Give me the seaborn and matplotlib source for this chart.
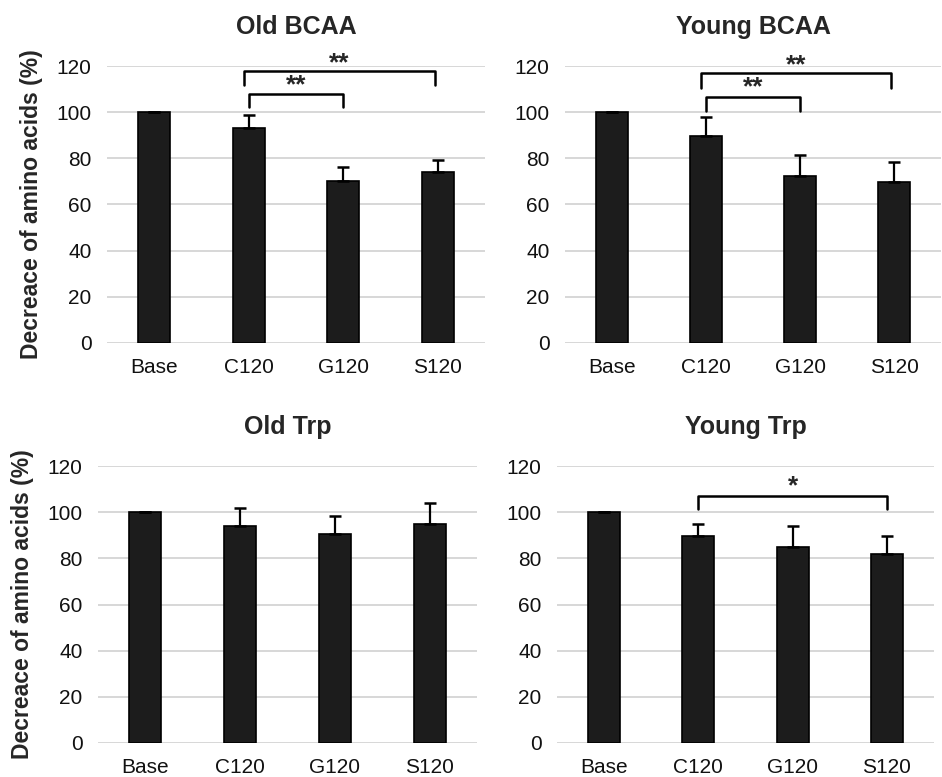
import pandas as pd
import matplotlib
matplotlib.use("Agg")
import matplotlib.pyplot as plt
import seaborn as sns

sns.set_style("white")
plt.rcParams["font.family"] = ["Liberation Sans", "DejaVu Sans"]

groups = ["Base", "C120", "G120", "S120"]

old_bcaa = [100, 93.3, 70.3, 74.1]
old_bcaa_err = [0, 5.5, 5.8, 5.1]
young_bcaa = [100, 89.7, 72.5, 69.9]
young_bcaa_err = [0, 8.3, 8.8, 8.4]
old_trp = [100, 93.8, 90.7, 94.7]
old_trp_err = [0, 7.8, 7.5, 9.3]
young_trp = [100, 89.5, 84.9, 82.0]
young_trp_err = [0, 5.4, 8.9, 7.5]

# (from, to, bar height, leg bottom, label, star centre)
old_bcaa_sig = [(1.0, 2.0, 107.8, 102.3, "**", 112.0), (0.95, 2.97, 117.8, 111.8, "**", 121.8)]
young_bcaa_sig = [(1.0, 2.0, 106.7, 100.5, "**", 111.5), (0.95, 2.97, 116.8, 110.3, "**", 121.0)]
young_trp_sig = [(1.0, 3.0, 107.1, 101.4, "*", 111.6)]

W, H = 942, 777
fig = plt.figure(figsize=(W / 100, H / 100), dpi=100)


def make_axes(x0, x1, ytop, ybot):
    return fig.add_axes([x0 / W, 1 - ybot / H, (x1 - x0) / W, (ybot - ytop) / H])


def panel(ax, vals, errs, title, sig, ylabel):
    df = pd.DataFrame({"group": groups, "value": vals})
    sns.barplot(data=df, x="group", y="value", color="#1c1c1c", edgecolor="black",
                linewidth=1.2, width=0.34, saturation=1, errorbar=None, ax=ax, zorder=3)
    ax.errorbar(range(len(groups)), vals, yerr=[[0] * len(errs), errs], fmt="none",
                ecolor="black", elinewidth=1.6, capsize=4, capthick=1.8, zorder=4)
    ax.set_ylim(0, 120)
    ax.set_xlim(-0.5, 3.5)
    ax.set_yticks(range(0, 121, 20))
    ax.yaxis.grid(True, color="#d4d4d4", linewidth=1.3, zorder=0)
    ax.set_axisbelow(True)
    for s in ax.spines.values():
        s.set_visible(False)
    ax.tick_params(axis="both", length=0, labelsize=15, colors="#111111")
    ax.tick_params(axis="x", pad=11)
    ax.tick_params(axis="y", pad=11)
    ax.set_xlabel("")
    if ylabel:
        ax.set_ylabel("Decreace of amino acids (%)", fontsize=16.5, fontweight="bold", labelpad=10)
    else:
        ax.set_ylabel("")
    ax.set_title(title, fontsize=18, fontweight="bold", pad=23)
    for a, b, top, leg, label, sy in sig:
        ax.plot([a, a, b, b], [leg, top, top, leg], color="black", lw=1.8,
                solid_joinstyle="round", clip_on=False, zorder=5)
        ax.text((a + b) / 2, sy - 3.6, label, ha="center", va="baseline",
                fontsize=19, fontweight="bold", clip_on=False)


ax1 = make_axes(107, 485, 66, 343)
ax2 = make_axes(565, 941, 66, 343)
ax3 = make_axes(98, 477, 466, 743)
ax4 = make_axes(557, 934, 466, 743)

panel(ax1, old_bcaa, old_bcaa_err, "Old BCAA", old_bcaa_sig, True)
panel(ax2, young_bcaa, young_bcaa_err, "Young BCAA", young_bcaa_sig, False)
panel(ax3, old_trp, old_trp_err, "Old Trp", [], True)
panel(ax4, young_trp, young_trp_err, "Young Trp", young_trp_sig, False)

fig.savefig("out.png", dpi=100, facecolor="white")
